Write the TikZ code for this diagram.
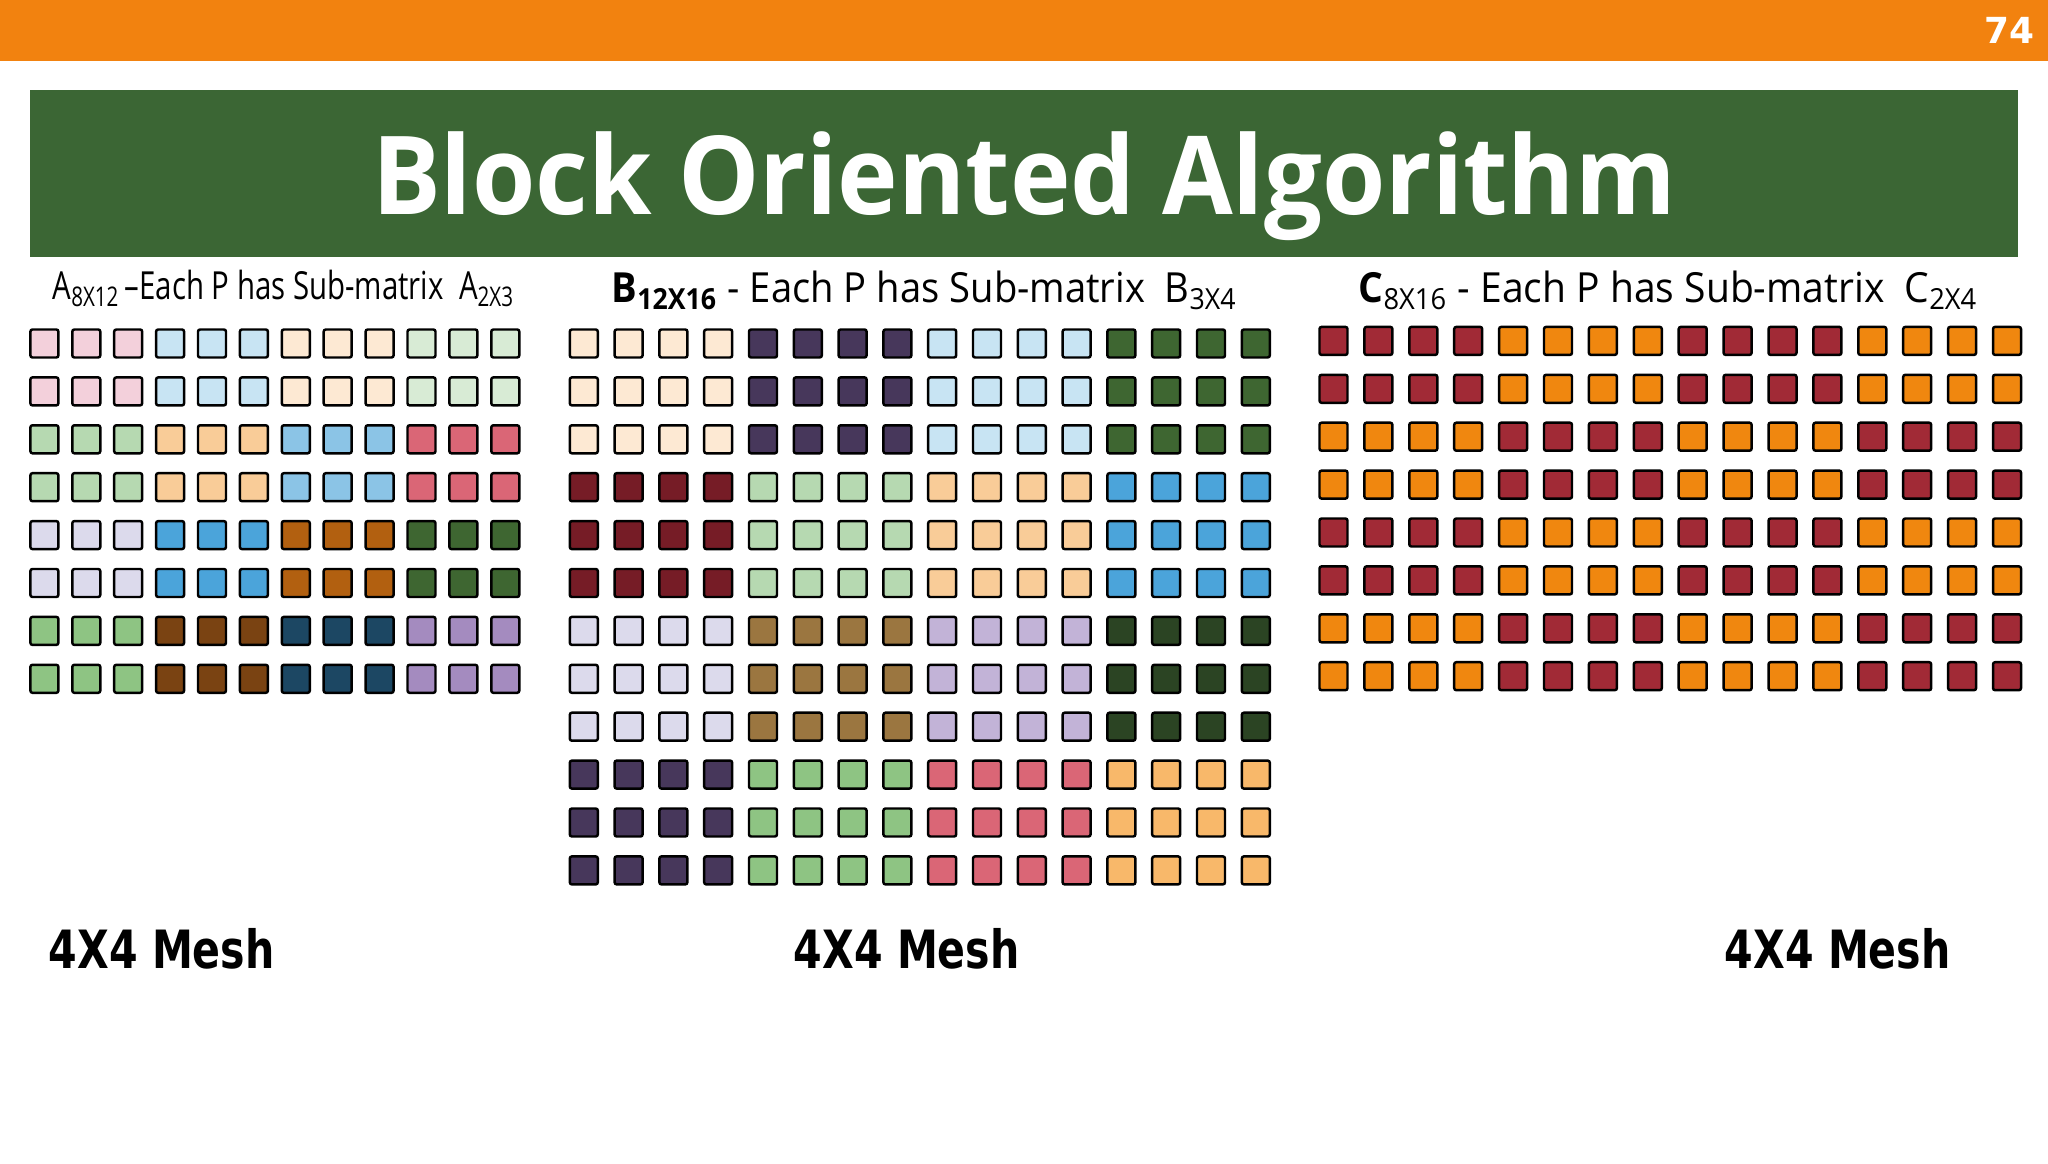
\documentclass[tikz,border=0pt]{standalone}
\usepackage{fontspec}
\setmainfont{Open Sans}
\newfontfamily\meshfont{DejaVu Sans}
\newfontfamily\numfont{DejaVu Sans}
\definecolor{barorange}{HTML}{F2820F}
\definecolor{titlegreen}{HTML}{3B6634}
\definecolor{apink}{HTML}{F3D0DB}
\definecolor{alblue}{HTML}{C8E4F3}
\definecolor{apeach}{HTML}{FDE9D3}
\definecolor{algreen}{HTML}{D8EBD5}
\definecolor{agreen}{HTML}{B6D9B1}
\definecolor{aorange}{HTML}{F9CC98}
\definecolor{asky}{HTML}{8BC4E6}
\definecolor{arose}{HTML}{DA6676}
\definecolor{alav}{HTML}{DCDAEC}
\definecolor{ablue}{HTML}{4BA4DA}
\definecolor{arust}{HTML}{B26010}
\definecolor{adkgreen}{HTML}{3E6631}
\definecolor{amgreen}{HTML}{8EC483}
\definecolor{abrown}{HTML}{7A4312}
\definecolor{anavy}{HTML}{1C4763}
\definecolor{apurple}{HTML}{A48BBF}
\definecolor{bdkpurple}{HTML}{47375B}
\definecolor{bdkred}{HTML}{761C26}
\definecolor{bolive}{HTML}{9B7640}
\definecolor{blpurple}{HTML}{C2B3D7}
\definecolor{bvdkgreen}{HTML}{2B4423}
\definecolor{blorange}{HTML}{F8B86A}
\definecolor{cred}{HTML}{A12A36}
\definecolor{corange}{HTML}{F0870F}

\begin{document}
\begin{tikzpicture}[x=0.01cm,y=-0.01cm,
		cell/.style={draw=black,line width=0.7pt,rounded corners=0.6pt},
		subtitle/.style={anchor=base west,inner sep=0pt,font=\fontsize{11.8}{14}\selectfont},
		meshlabel/.style={anchor=base west,inner sep=0pt,font=\meshfont\bfseries\fontsize{15}{18}\selectfont}]
	\useasboundingbox (0,0) rectangle (2048,1164);
	\fill [white] (0,0) rectangle (2048,1164);
	\fill [barorange] (0,0) rectangle (2048,61);
	\node [white,anchor=base east,inner sep=0pt,font=\numfont\bfseries\fontsize{10.2}{12}\selectfont] (pagenum) at (2035,44) {74};
	\fill [titlegreen] (30,90) rectangle (2018,257);
	\node [white,anchor=base,inner sep=0pt,font=\bfseries\fontsize{31}{36}\selectfont] (title) at (1024,215) {\scalebox{0.94}[1]{Block Oriented Algorithm}};

	\node [subtitle] (atitle) at (52,300) {\scalebox{0.76}[1]{\fontsize{11}{13}\selectfont A\textsubscript{8X12}\,--Each P has Sub-matrix\ \ A\textsubscript{2X3}}};
	\node [subtitle] (btitle) at (611,303) {\scalebox{0.92}[1]{\textbf{B\textsubscript{12X16}} - Each P has Sub-matrix\ \ B\textsubscript{3X4}}};
	\node [subtitle] (ctitle) at (1358,303) {\scalebox{0.94}[1]{\textbf{C}\textsubscript{8X16} - Each P has Sub-matrix\ \ C\textsubscript{2X4}}};

	\foreach \r/\c/\col in {0/0/apink,0/1/alblue,0/2/apeach,0/3/algreen,
			1/0/agreen,1/1/aorange,1/2/asky,1/3/arose,
			2/0/alav,2/1/ablue,2/2/arust,2/3/adkgreen,
			3/0/amgreen,3/1/abrown,3/2/anavy,3/3/apurple}
		\foreach \i in {0,1}
			\foreach \j in {0,1,2}
				\draw [cell,fill=\col] ({44.4+41.9*(3*\c+\j)-14},{343.5+47.9*(2*\r+\i)-14}) rectangle ++(28,28);

	\foreach \r/\c/\col in {0/0/apeach,0/1/bdkpurple,0/2/alblue,0/3/adkgreen,
			1/0/bdkred,1/1/agreen,1/2/aorange,1/3/ablue,
			2/0/alav,2/1/bolive,2/2/blpurple,2/3/bvdkgreen,
			3/0/bdkpurple,3/1/amgreen,3/2/arose,3/3/blorange}
		\foreach \i in {0,1,2}
			\foreach \j in {0,1,2,3}
				\draw [cell,fill=\col] ({583.8+44.8*(4*\c+\j)-14},{343.5+47.9*(3*\r+\i)-14}) rectangle ++(28,28);

	\foreach \r/\c/\col in {0/0/cred,0/1/corange,0/2/cred,0/3/corange,
			1/0/corange,1/1/cred,1/2/corange,1/3/cred,
			2/0/cred,2/1/corange,2/2/cred,2/3/corange,
			3/0/corange,3/1/cred,3/2/corange,3/3/cred}
		\foreach \i in {0,1}
			\foreach \j in {0,1,2,3}
				\draw [cell,fill=\col] ({1333.5+44.9*(4*\c+\j)-14},{340.9+47.9*(2*\r+\i)-14}) rectangle ++(28,28);

	\node [meshlabel] (amesh) at (48,968) {\scalebox{0.78}[1]{4X4 Mesh}};
	\node [meshlabel] (bmesh) at (793,968) {\scalebox{0.78}[1]{4X4 Mesh}};
	\node [meshlabel] (cmesh) at (1724,968) {\scalebox{0.78}[1]{4X4 Mesh}};
\end{tikzpicture}
\end{document}
